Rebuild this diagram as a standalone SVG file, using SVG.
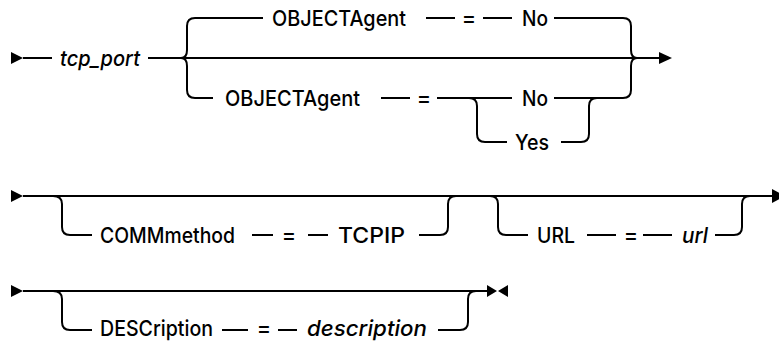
<svg xmlns="http://www.w3.org/2000/svg" width="779" height="341" viewBox="0 0 779 341">
<style>
.ln{fill:none;stroke:#000;stroke-width:2;stroke-linejoin:round}
.t{font-family:Inter,"Liberation Sans",sans-serif;font-size:21.5px;font-weight:500;fill:#000}
.i{font-style:italic}
.m{text-anchor:middle}
.ah{fill:#000}
</style>
<rect width="779" height="341" fill="#fff"/>
<g id="connectors">
  <path class="ah" d="M11,52 L23,58 L11,64 Z"/>
  <path class="ln" d="M23,58 H52"/>
  <path class="ln" d="M148,58 H660"/>
  <path class="ah" d="M659,52 L672,58 L659,64 Z"/>
  <path class="ln" d="M181,58 Q187,58 187,50 V26 Q187,18 195,18 H263"/>
  <path class="ln" d="M426,18 H455 M483,18 H512"/>
  <path class="ln" d="M554,18 H623 Q631,18 631,26 V50 Q631,58 637,58"/>
  <path class="ln" d="M181,58 Q187,58 187,66 V90 Q187,98 195,98 H213"/>
  <path class="ln" d="M381,98 H410 M437,98 H512"/>
  <path class="ln" d="M554,98 H623 Q631,98 631,90 V66 Q631,58 637,58"/>
  <path class="ln" d="M469,98 Q477,98 477,106 V134 Q477,142 485,142 H507"/>
  <path class="ln" d="M561,142 H581 Q589,142 589,134 V106 Q589,98 597,98"/>
  <path class="ah" d="M11,190 L23,196 L11,202 Z"/>
  <path class="ln" d="M23,196 H773"/>
  <path class="ah" d="M772,189 L785,196 L772,203 Z"/>
  <path class="ln" d="M53,196 Q62,196 62,204 V227 Q62,235 70,235 H92"/>
  <path class="ln" d="M252,235 H273 M308,235 H328"/>
  <path class="ln" d="M419,235 H440 Q448,235 448,227 V204 Q448,196 456,196"/>
  <path class="ln" d="M490,196 Q498,196 498,204 V227 Q498,235 506,235 H528"/>
  <path class="ln" d="M587,235 H616 M643,235 H672"/>
  <path class="ln" d="M715,235 H734 Q742,235 742,227 V204 Q742,196 750,196"/>
  <path class="ah" d="M11,285 L23,291 L11,297 Z"/>
  <path class="ln" d="M23,291 H488"/>
  <path class="ah" d="M487,285 L497,291 L487,297 Z M508,285 L498,291 L508,297 Z"/>
  <path class="ln" d="M53,291 Q62,291 62,299 V322 Q62,330 70,330 H92"/>
  <path class="ln" d="M222,330 H248 M278,330 H297"/>
  <path class="ln" d="M438,330 H460 Q468,330 468,322 V299 Q468,291 476,291"/>
</g>
<g id="tcp_port"><text class="t i" x="60" y="66" textLength="80" lengthAdjust="spacingAndGlyphs">tcp_port</text></g>
<g id="objectagent1"><text class="t" x="272" y="26" textLength="134" lengthAdjust="spacingAndGlyphs">OBJECTAgent</text></g>
<g id="eq1"><text class="t m" x="469" y="26">=</text></g>
<g id="no1"><text class="t" x="522" y="26" textLength="26" lengthAdjust="spacingAndGlyphs">No</text></g>
<g id="objectagent2"><text class="t" x="225" y="106" textLength="135" lengthAdjust="spacingAndGlyphs">OBJECTAgent</text></g>
<g id="eq2"><text class="t m" x="424" y="106">=</text></g>
<g id="no2"><text class="t" x="522" y="106" textLength="26" lengthAdjust="spacingAndGlyphs">No</text></g>
<g id="yes"><text class="t" x="515" y="150" textLength="34" lengthAdjust="spacingAndGlyphs">Yes</text></g>
<g id="commmethod"><text class="t" x="100" y="243" textLength="135" lengthAdjust="spacingAndGlyphs">COMMmethod</text></g>
<g id="eq3"><text class="t m" x="289" y="243">=</text></g>
<g id="tcpip"><text class="t" x="338" y="243" textLength="67" lengthAdjust="spacingAndGlyphs">TCPIP</text></g>
<g id="url-kw"><text class="t" x="537" y="243" textLength="38" lengthAdjust="spacingAndGlyphs">URL</text></g>
<g id="eq4"><text class="t m" x="631" y="243">=</text></g>
<g id="url"><text class="t i" x="682" y="243" textLength="26" lengthAdjust="spacingAndGlyphs">url</text></g>
<g id="description-kw"><text class="t" x="100" y="336" textLength="113" lengthAdjust="spacingAndGlyphs">DESCription</text></g>
<g id="eq5"><text class="t m" x="264" y="336">=</text></g>
<g id="description"><text class="t i" x="307" y="336" textLength="120" lengthAdjust="spacingAndGlyphs">description</text></g>
</svg>
